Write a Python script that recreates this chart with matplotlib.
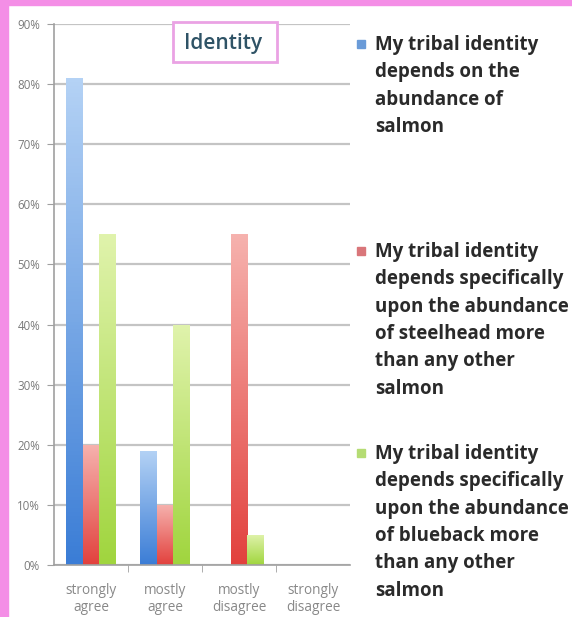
import numpy as np
import matplotlib
matplotlib.use("Agg")
import matplotlib.pyplot as plt
from matplotlib.colors import LinearSegmentedColormap
from matplotlib.patches import Rectangle

# survey responses, percent of respondents
categories = ["strongly\nagree", "mostly\nagree", "mostly\ndisagree", "strongly\ndisagree"]
salmon = [81, 19, 0, 0]
steelhead = [20, 10, 55, 0]
blueback = [55, 40, 5, 0]
series_labels = [
    "My tribal identity\ndepends on the\nabundance of\nsalmon",
    "My tribal identity\ndepends specifically\nupon the abundance\nof steelhead more\nthan any other\nsalmon",
    "My tribal identity\ndepends specifically\nupon the abundance\nof blueback more\nthan any other\nsalmon",
]
yticks = [0, 10, 20, 30, 40, 50, 60, 70, 80, 90]

# (top, bottom) gradient colours per series
shades = [("#b4d2f5", "#3b7dd6"), ("#f6b2ae", "#e2413d"), ("#e0f3ac", "#a0d53e")]
swatch = ["#6a9bd8", "#d9767a", "#b5dc74"]

W, H = 572, 617
fig = plt.figure(figsize=(W / 100, H / 100), dpi=100)
fig.patch.set_facecolor("white")

def px(x, y):
    return x / W, 1 - y / H

# pink frame on the left and top
fig.patches.append(Rectangle((0, 0), 8 / W, 1, transform=fig.transFigure,
                             color="#f48ee6", zorder=0))
fig.patches.append(Rectangle((0, 1 - 5 / H), 1, 5 / H, transform=fig.transFigure,
                             color="#f48ee6", zorder=0))

ax = fig.add_axes([54 / W, 1 - 565 / H, (350 - 54) / W, (565 - 24) / H])

x = np.arange(len(categories))
bw = 0.225
for i, vals in enumerate([salmon, steelhead, blueback]):
    bars = ax.bar(x + (i - 1) * bw, vals, width=bw, color="none", zorder=2)
    top_c, bot_c = shades[i]
    cmap = LinearSegmentedColormap.from_list("g%d" % i, [bot_c, top_c])
    grad = np.linspace(0, 1, 128).reshape(-1, 1)
    for rect in bars:
        h = rect.get_height()
        if h <= 0:
            continue
        x0 = rect.get_x()
        im = ax.imshow(grad, extent=[x0, x0 + bw, 0, h], origin="lower",
                       cmap=cmap, aspect="auto", zorder=2)
        im.set_clip_path(rect)

ax.set_xlim(-0.5, 3.5)
ax.set_ylim(0, 90)
ax.set_aspect("auto")

ax.set_yticks(yticks)
ax.set_yticklabels(["%d%%" % v for v in yticks], fontsize=8.3, color="#7a7a7a",
                   family="Open Sans")
ax.yaxis.grid(True, color="#c4c4c4", linewidth=1.6, zorder=0)
ax.set_axisbelow(True)

ax.set_xticks(x)
ax.set_xticklabels(categories, fontsize=9.8, color="#888888", family="Open Sans",
                   linespacing=1.2)
ax.set_xticks([0.5, 1.5, 2.5], minor=True)
ax.tick_params(axis="x", which="major", length=0, pad=13)
ax.tick_params(axis="x", which="minor", length=5, color="#a0a0a0")
ax.tick_params(axis="y", length=5, color="#a0a0a0", pad=5)

for s in ["top", "right"]:
    ax.spines[s].set_visible(False)
for s in ["left", "bottom"]:
    ax.spines[s].set_color("#a0a0a0")
    ax.spines[s].set_linewidth(1.2)

# title box
fig.patches.append(Rectangle(px(173, 62), 104 / W, 40 / H, transform=fig.transFigure,
                             facecolor="white", edgecolor="#eaa2e4", linewidth=2, zorder=3))
tx, ty = px(223, 44)
fig.text(tx, ty, "Identity", ha="center", va="center", fontsize=15,
         color="#2f5366", family="Open Sans", weight="semibold", zorder=4)

# legend
tops = [35, 242, 444]
for lab, c, t in zip(series_labels, swatch, tops):
    fig.patches.append(Rectangle(px(357, t + 13), 8 / W, 8 / H, transform=fig.transFigure,
                                 color=c, zorder=3))
    lx, ly = px(375, t)
    fig.text(lx, ly, lab, ha="left", va="top", fontsize=13.5, color="#2a2a2a",
             family="Open Sans", weight="bold", linespacing=1.49)

fig.savefig("out.png", dpi=100)
